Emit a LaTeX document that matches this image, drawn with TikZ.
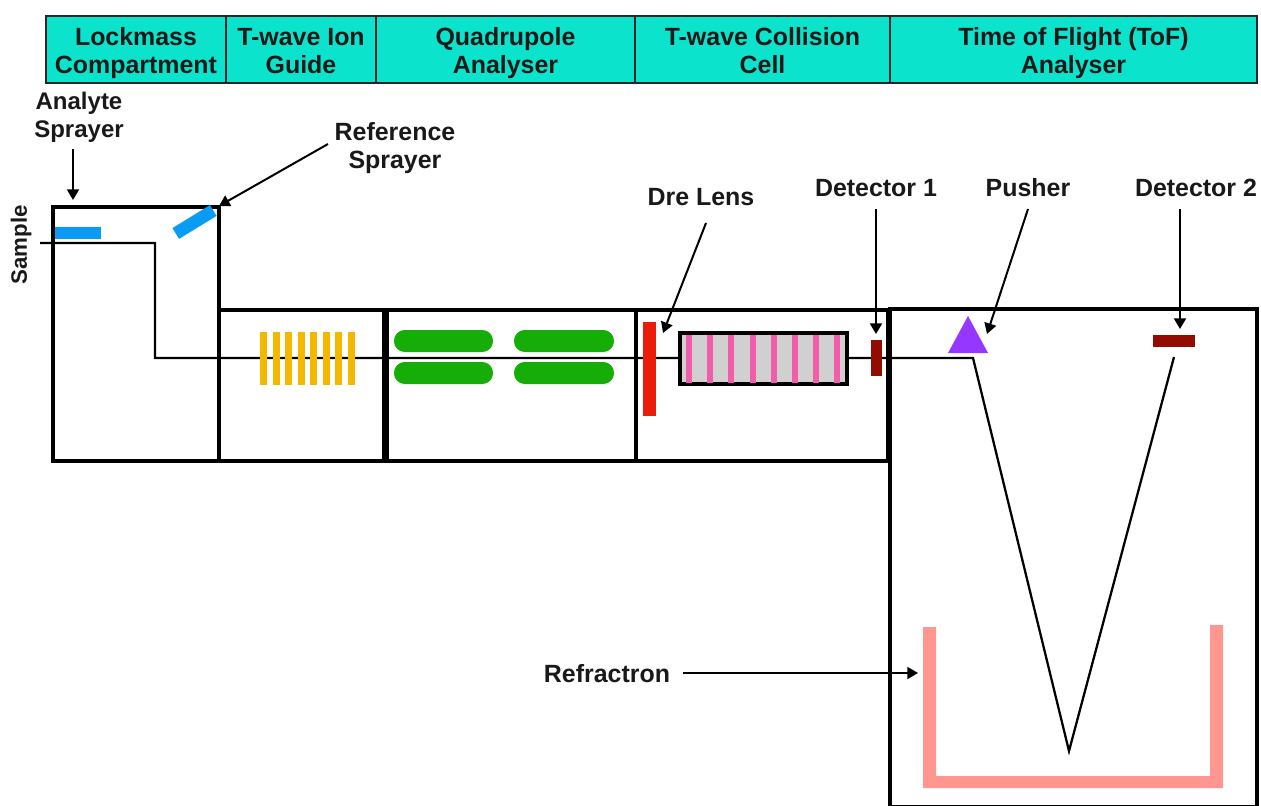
\documentclass[tikz,border=0pt]{standalone}
\usepackage{fontspec}
\setmainfont{Liberation Sans}
\usetikzlibrary{arrows.meta}
\definecolor{headfill}{HTML}{0CE3CC}
\definecolor{sprayblue}{HTML}{0A9BF5}
\definecolor{guideyellow}{HTML}{F5B800}
\definecolor{quadgreen}{HTML}{17AD08}
\definecolor{lensred}{HTML}{EB1C0A}
\definecolor{cellgray}{HTML}{D0D0D0}
\definecolor{cellpink}{HTML}{F25DAB}
\definecolor{detred}{HTML}{920C00}
\definecolor{pushviolet}{HTML}{9537FF}
\definecolor{refpink}{HTML}{FF9690}
\newcommand{\toplinestrut}{\rule{0pt}{21.3pt}}
\tikzset{
  x=0.75pt,y=-0.75pt,
  labeltext/.style={font=\bfseries\fontsize{18.7}{21}\selectfont,align=center,inner sep=0pt,text=black!90},
  headcell/.style={draw=black!85,line width=1.5pt,fill=headfill,labeltext,anchor=north west,outer sep=0pt,minimum height=50.25pt},
  chamber/.style={draw=black,line width=3.2pt,line join=miter},
  block/.style={inner sep=0pt,outer sep=0pt,draw=none},
  beam/.style={draw=black,line width=1.7pt,line join=miter},
  pointer/.style={draw=black,line width=1.5pt,-{Triangle[length=8pt,width=9pt]}},
  yellowbar/.style={block,fill=guideyellow,minimum width=5.25pt,minimum height=39.75pt},
  pinkbar/.style={block,fill=cellpink,minimum width=4.5pt,minimum height=38.25pt},
  greenrod/.style={block,fill=quadgreen,rounded corners=8pt,minimum height=16.5pt},
}
\begin{document}
\begin{tikzpicture}
\useasboundingbox (0,0) rectangle (1261,806);
\clip (0,0) rectangle (1261,806);
% header
\node[headcell,minimum width=135pt] (h1) at (46,16) {\toplinestrut\strut Lockmass\\\strut Compartment};
\node[headcell,minimum width=112.5pt] (h2) at (226,16) {\toplinestrut\strut T-wave Ion\\\strut Guide};
\node[headcell,minimum width=194.25pt] (h3) at (376,16) {\toplinestrut\strut Quadrupole\\\strut Analyser};
\node[headcell,minimum width=191.25pt] (h4) at (635,16) {\toplinestrut\strut T-wave Collision\\\strut Cell};
\node[headcell,minimum width=275.25pt] (h5) at (890,16) {\toplinestrut\strut Time of Flight (ToF)\\\strut Analyser};
% chambers
\draw[chamber] (53,207) rectangle (219,461);
\draw[chamber] (219,310) rectangle (384,461);
\draw[chamber] (387,310) rectangle (636,461);
\draw[chamber] (636,310) rectangle (888,461);
\draw[chamber] (890,309) rectangle (1257,807);
% ion path
\coordinate (pathA) at (40,243);
\coordinate (pathB) at (155,243);
\coordinate (pathC) at (155,358);
\coordinate (pathD) at (973,358);
\coordinate (pathE) at (1069,751);
\coordinate (pathF) at (1174,357);
\draw[beam] (pathA) -- (pathB) -- (pathC) -- (pathD) -- (pathE) -- (pathF);
% sprayers
\node[block,fill=sprayblue,minimum width=34.5pt,minimum height=9pt] (analyte) at (78,233) {};
\node[block,fill=sprayblue,minimum width=33pt,minimum height=9.5pt,rotate=31.5] (refspray) at (194.5,222) {};
% guide
\foreach \n/\xx in {1/263.5,2/276,3/288.5,4/301,5/313.5,6/326,7/338.5,8/351}
  \node[yellowbar] (g\n) at (\xx,358.5) {};
% quadrupole
\node[greenrod,minimum width=74.25pt] (q1) at (443.5,341) {};
\node[greenrod,minimum width=74.25pt] (q2) at (443.5,373) {};
\node[greenrod,minimum width=75pt] (q3) at (564,341) {};
\node[greenrod,minimum width=75pt] (q4) at (564,373) {};
% lens
\node[block,fill=lensred,minimum width=9.75pt,minimum height=70.5pt] (lens) at (649.5,369) {};
% collision cell
\node[draw=black,line width=3.4pt,fill=cellgray,inner sep=0pt,minimum width=125pt,minimum height=38pt] (cell) at (763.5,358.5) {};
\foreach \n/\xx in {1/689,2/710,3/731,4/752.5,5/774,6/795,7/816,8/837}
  \node[pinkbar,minimum height=36pt] (c\n) at (\xx,358.5) {};
% detectors
\node[block,fill=detred,minimum width=8.5pt,minimum height=27pt] (det1) at (876.5,358) {};
\node[block,fill=detred,minimum width=31.5pt,minimum height=9pt] (det2) at (1174,341) {};
% pusher
\fill[pushviolet] (968,316) -- (988,353) -- (948,353) -- cycle;
% refractron
\fill[refpink] (923,627) -- (936,627) -- (936,776) -- (1210,776) -- (1210,625) -- (1223,625) -- (1223,788) -- (923,788) -- cycle;
% labels
\node[labeltext,font=\bfseries\fontsize{18}{21}\selectfont] (lAnalyte) at (79,118.4) {\strut Analyte\\\strut Sprayer};
\node[labeltext] (lRef) at (395,149.4) {\strut Reference\\\strut Sprayer};
\node[labeltext] (lDre) at (701,197) {Dre Lens};
\node[labeltext] (lD1) at (876,188) {Detector 1};
\node[labeltext] (lPush) at (1028,188) {Pusher};
\node[labeltext] (lD2) at (1196,188) {Detector 2};
\node[labeltext] (lRefr) at (607,674) {Refractron};
\node[labeltext,font=\bfseries\fontsize{16.7}{20}\selectfont,rotate=90] (lSample) at (21,245) {Sample};
% pointers
\coordinate (a1s) at (73,149); \coordinate (a1e) at (73,200);
\coordinate (a2s) at (328,144); \coordinate (a2e) at (219,206);
\coordinate (a3s) at (706,223); \coordinate (a3e) at (663,333);
\coordinate (a4s) at (876,209); \coordinate (a4e) at (876,334);
\coordinate (a5s) at (1028,209); \coordinate (a5e) at (987,334);
\coordinate (a6s) at (1180,209); \coordinate (a6e) at (1180,329);
\coordinate (a7s) at (683,673); \coordinate (a7e) at (918,673);
\draw[pointer] (a1s) -- (a1e);
\draw[pointer] (a2s) -- (a2e);
\draw[pointer] (a3s) -- (a3e);
\draw[pointer] (a4s) -- (a4e);
\draw[pointer] (a5s) -- (a5e);
\draw[pointer] (a6s) -- (a6e);
\draw[pointer] (a7s) -- (a7e);
\end{tikzpicture}
\end{document}
